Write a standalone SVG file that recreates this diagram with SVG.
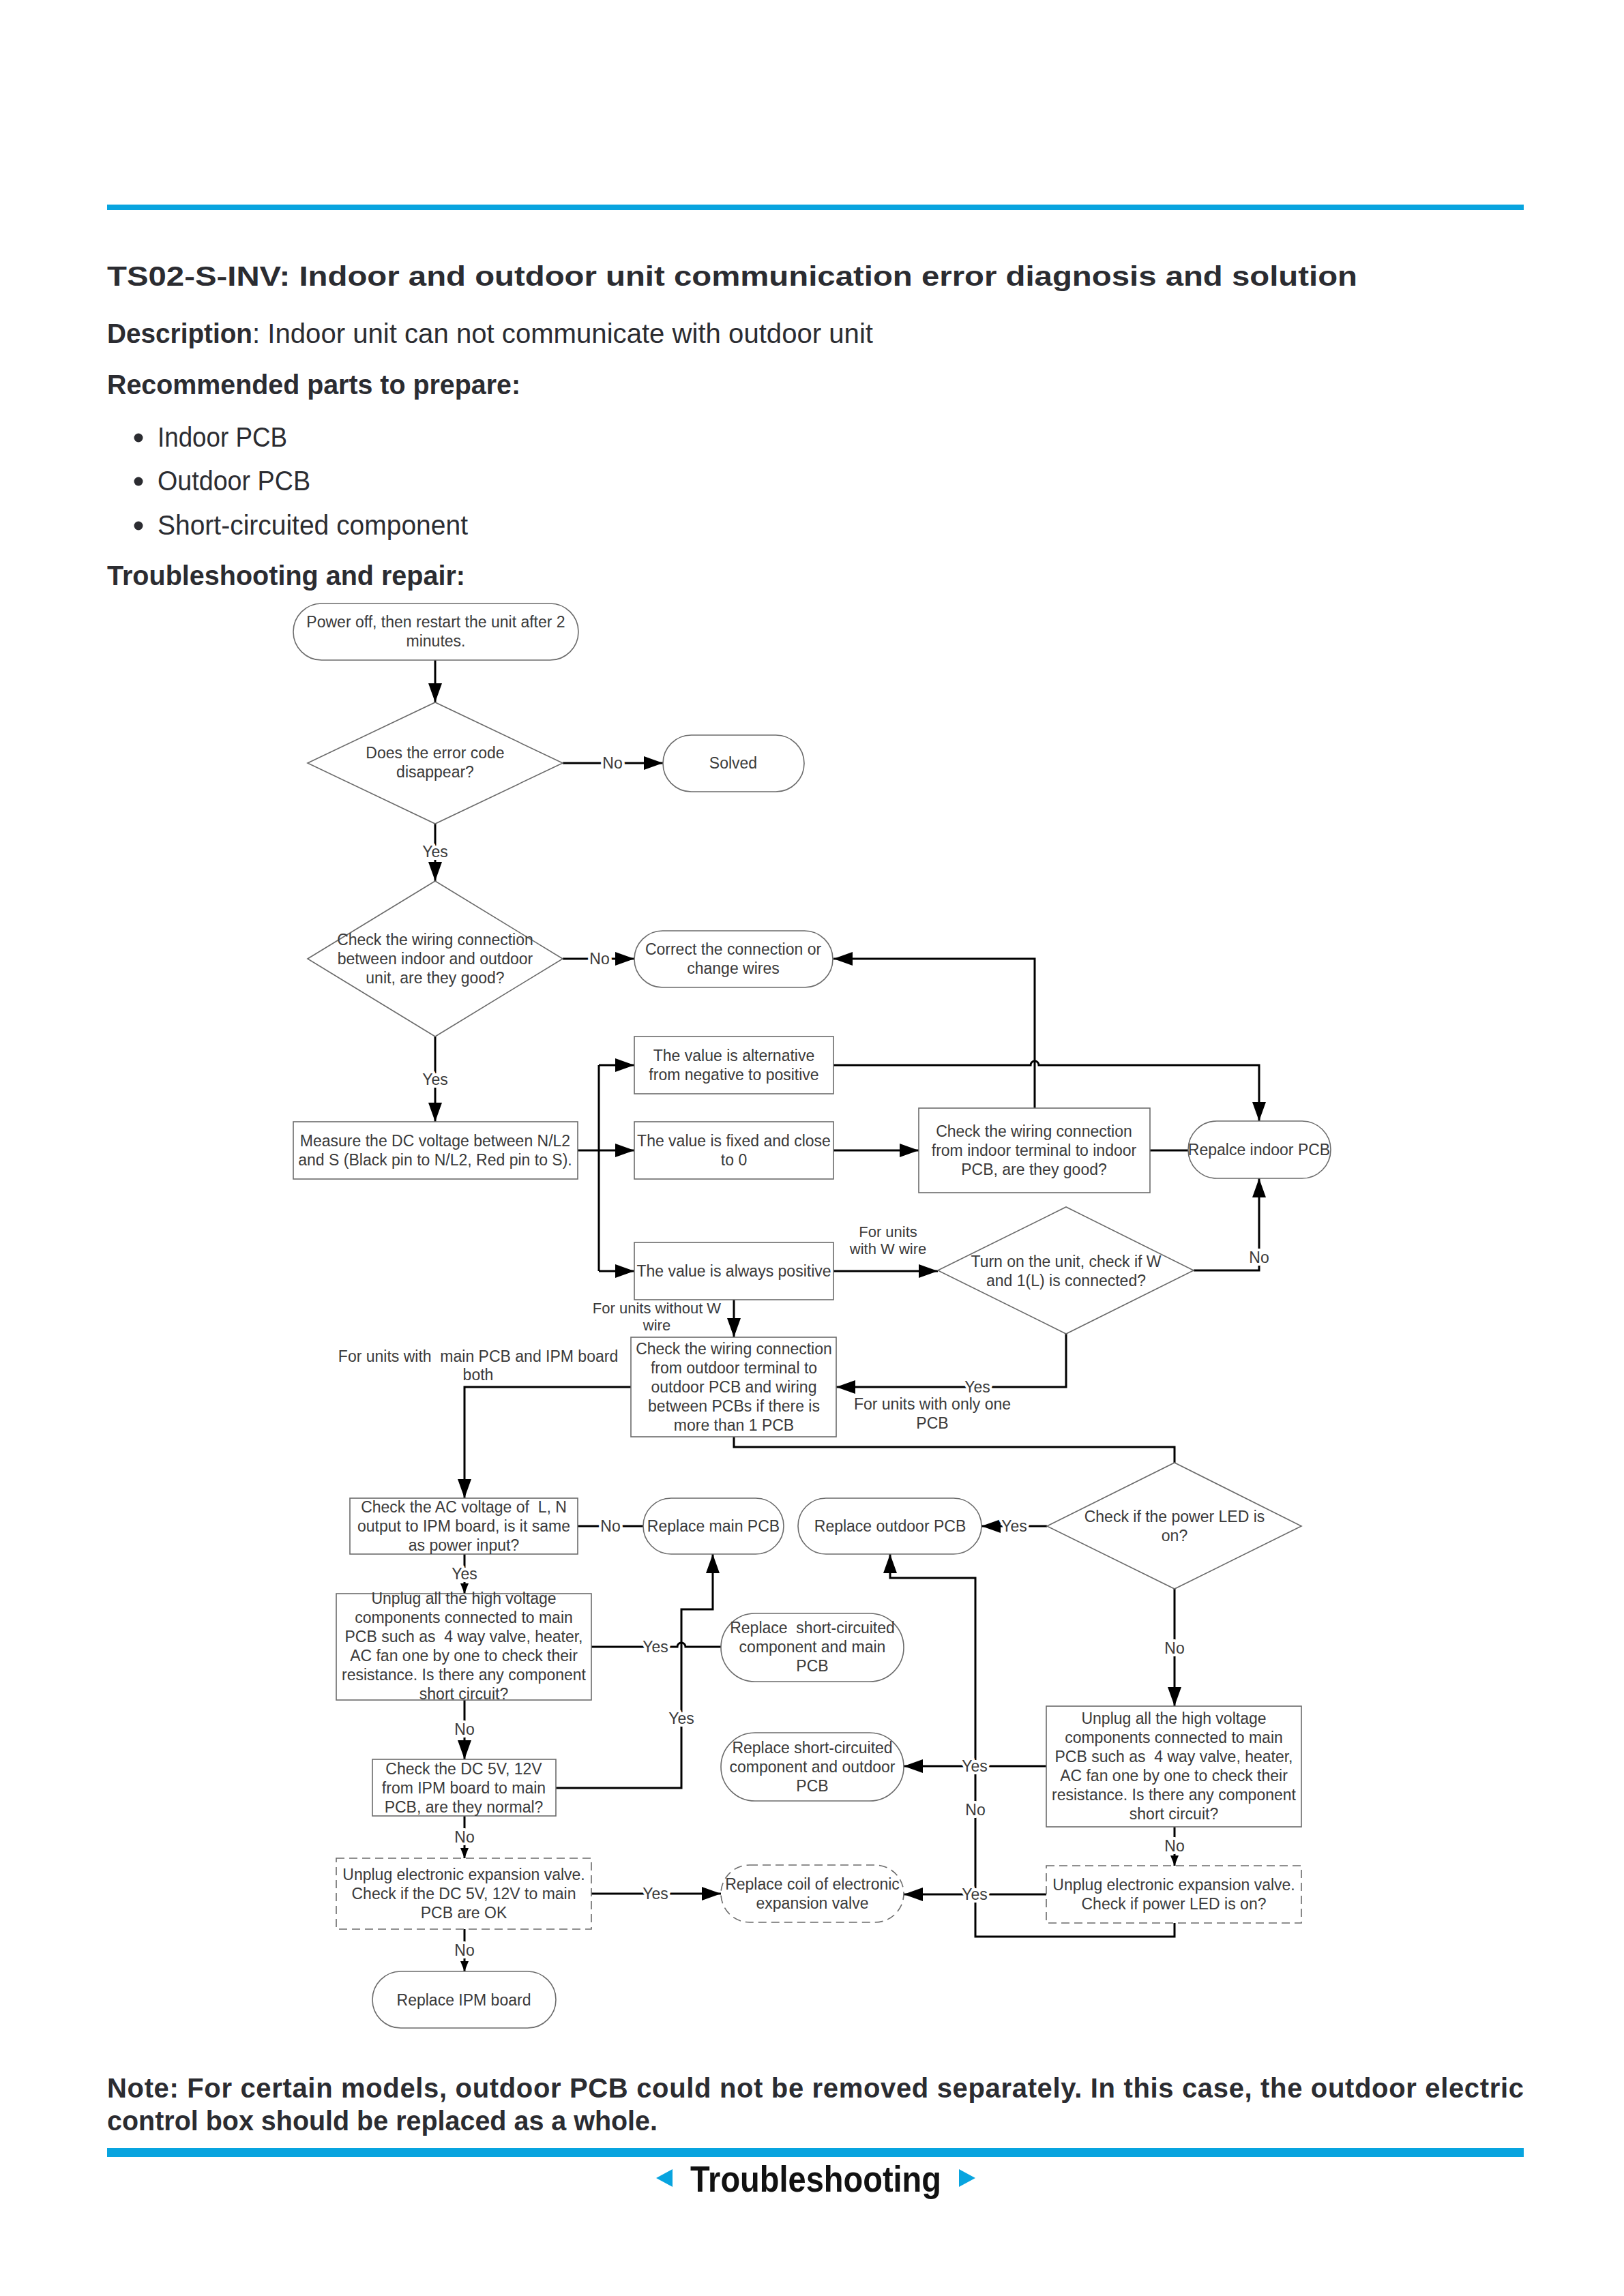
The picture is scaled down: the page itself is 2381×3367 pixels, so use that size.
<svg xmlns="http://www.w3.org/2000/svg" width="2381" height="3367" viewBox="0 0 2381 3367">
<defs>
<marker id="arr" markerUnits="userSpaceOnUse" markerWidth="30" markerHeight="20" refX="28" refY="10" orient="auto"><path d="M0,0 L28,10 L0,20 z" fill="#000"/></marker>
<marker id="arrS" markerUnits="userSpaceOnUse" markerWidth="16" markerHeight="12" refX="15" refY="6" orient="auto"><path d="M0,0 L15,6 L0,12 z" fill="#000"/></marker>
<style>
.shape{fill:#fff;stroke:#6b6b6b;stroke-width:1.6}
.dash{stroke-dasharray:12 7}
.t{font-family:"Liberation Sans",Arial,sans-serif;font-size:23px;fill:#3a3a3a;text-anchor:middle}
.lbl{font-family:"Liberation Sans",Arial,sans-serif;font-size:23px;fill:#3a3a3a;text-anchor:middle;paint-order:stroke;stroke:#fff;stroke-width:8px;stroke-linejoin:round}
.sm{font-size:22px}
.c{fill:none;stroke:#000;stroke-width:3}
.h{font-family:"Liberation Sans",Arial,sans-serif;fill:#2b2c31;font-size:40px}
.b{font-weight:bold}
.blue{fill:#08a4df}
</style>
</defs>
<rect x="0" y="0" width="2381" height="3367" fill="#fff"/>

<g id="page">
<rect class="blue" x="157" y="300" width="2077" height="8"/>
<text class="h b" x="157" y="419" font-size="52" textLength="1833" lengthAdjust="spacingAndGlyphs">TS02-S-INV: Indoor and outdoor unit communication error diagnosis and solution</text>
<text class="h b" x="157" y="503" textLength="213" lengthAdjust="spacingAndGlyphs">Description</text>
<text class="h" x="370" y="503" textLength="910" lengthAdjust="spacingAndGlyphs">: Indoor unit can not communicate with outdoor unit</text>
<text class="h b" x="157" y="578" textLength="606" lengthAdjust="spacingAndGlyphs">Recommended parts to prepare:</text>
<circle cx="203" cy="642" r="6.5" fill="#2b2c31"/>
<text class="h" x="231" y="655" textLength="190" lengthAdjust="spacingAndGlyphs">Indoor PCB</text>
<circle cx="203" cy="706" r="6.5" fill="#2b2c31"/>
<text class="h" x="231" y="719" textLength="224" lengthAdjust="spacingAndGlyphs">Outdoor PCB</text>
<circle cx="203" cy="771" r="6.5" fill="#2b2c31"/>
<text class="h" x="231" y="784" textLength="455" lengthAdjust="spacingAndGlyphs">Short-circuited component</text>
<text class="h b" x="157" y="858" textLength="525" lengthAdjust="spacingAndGlyphs">Troubleshooting and repair:</text>

<text class="h b" x="157" y="3076" font-size="41" textLength="2077" lengthAdjust="spacing">Note: For certain models, outdoor PCB could not be removed separately. In this case, the outdoor electric</text>
<text class="h b" x="157" y="3124" font-size="41" textLength="807" lengthAdjust="spacingAndGlyphs">control box should be replaced as a whole.</text>
<rect class="blue" x="157" y="3150" width="2077" height="13"/>
<polygon class="blue" points="962,3194 986,3181 986,3207"/>
<polygon class="blue" points="1430,3194 1406,3181 1406,3207"/>
<text x="1196" y="3214" font-family="Liberation Sans,Arial,sans-serif" font-weight="bold" font-size="54" fill="#111" text-anchor="middle" textLength="368" lengthAdjust="spacingAndGlyphs">Troubleshooting</text>
</g>

<g id="connectors">
<path class="c" d="M638,968 V1030" marker-end="url(#arr)"/>
<path class="c" d="M825,1119 H972" marker-end="url(#arr)"/>
<path class="c" d="M638,1208 V1292" marker-end="url(#arr)"/>
<path class="c" d="M825,1406 H930" marker-end="url(#arr)"/>
<path class="c" d="M638,1520 V1645" marker-end="url(#arr)"/>
<path class="c" d="M847,1687 H878"/>
<path class="c" d="M878,1562 V1864"/>
<path class="c" d="M878,1562 H930" marker-end="url(#arr)"/>
<path class="c" d="M878,1687 H930" marker-end="url(#arr)"/>
<path class="c" d="M878,1864 H930" marker-end="url(#arr)"/>
<path class="c" d="M1222,1562 H1511 A6,6 0 0 1 1523,1562 H1846 V1644" marker-end="url(#arr)"/>
<path class="c" d="M1222,1687 H1347" marker-end="url(#arr)"/>
<path class="c" d="M1517,1625 V1406 H1222" marker-end="url(#arr)"/>
<path class="c" d="M1686,1687 H1742"/>
<path class="c" d="M1222,1864 H1375" marker-end="url(#arr)"/>
<path class="c" d="M1750,1863 H1846 V1728" marker-end="url(#arr)"/>
<path class="c" d="M1563,1956 V2034 H1226" marker-end="url(#arr)"/>
<path class="c" d="M1076,1906 V1961" marker-end="url(#arr)"/>
<path class="c" d="M925,2034 H681 V2197" marker-end="url(#arr)"/>
<path class="c" d="M1076,2107 V2122 H1722 V2145"/>
<path class="c" d="M1535,2238 H1439" marker-end="url(#arr)"/>
<path class="c" d="M847,2238 H943"/>
<path class="c" d="M681,2279 V2337" marker-end="url(#arrS)"/>
<path class="c" d="M867,2415 H993 A6,6 0 0 1 1005,2415 H1057"/>
<path class="c" d="M681,2493 V2580" marker-end="url(#arr)"/>
<path class="c" d="M815,2622 H999 V2360 H1045 V2279" marker-end="url(#arr)"/>
<path class="c" d="M681,2663 V2725" marker-end="url(#arrS)"/>
<path class="c" d="M867,2777 H1057" marker-end="url(#arr)"/>
<path class="c" d="M681,2829 V2891" marker-end="url(#arrS)"/>
<path class="c" d="M1722,2330 V2502" marker-end="url(#arr)"/>
<path class="c" d="M1534,2590 H1325" marker-end="url(#arr)"/>
<path class="c" d="M1722,2679 V2736" marker-end="url(#arrS)"/>
<path class="c" d="M1534,2778 H1325" marker-end="url(#arr)"/>
<path class="c" d="M1722,2820 V2840 H1430 V2314 H1305 V2279" marker-end="url(#arr)"/>

<text class="lbl" x="898" y="1127">No</text>
<text class="lbl" x="638" y="1257">Yes</text>
<text class="lbl" x="879" y="1414">No</text>
<text class="lbl" x="638" y="1591">Yes</text>
<text class="lbl sm" x="1302" y="1814">For units</text>
<text class="lbl sm" x="1302" y="1839">with W wire</text>
<text class="lbl sm" x="963" y="1926">For units without W</text>
<text class="lbl sm" x="963" y="1951">wire</text>
<text class="lbl" x="1846" y="1852">No</text>
<text class="lbl" x="1433" y="2042">Yes</text>
<text class="lbl" x="1367" y="2067">For units with only one</text>
<text class="lbl" x="1367" y="2095">PCB</text>
<text class="lbl" x="701" y="1997">For units with&#160; main PCB and IPM board</text>
<text class="lbl" x="701" y="2024">both</text>
<text class="lbl" x="1487" y="2246">Yes</text>
<text class="lbl" x="895" y="2246">No</text>
<text class="lbl" x="681" y="2316">Yes</text>
<text class="lbl" x="961" y="2423">Yes</text>
<text class="lbl" x="681" y="2544">No</text>
<text class="lbl" x="999" y="2528">Yes</text>
<text class="lbl" x="681" y="2702">No</text>
<text class="lbl" x="961" y="2785">Yes</text>
<text class="lbl" x="681" y="2868">No</text>
<text class="lbl" x="1722" y="2425">No</text>
<text class="lbl" x="1430" y="2662">No</text>
<text class="lbl" x="1429" y="2598">Yes</text>
<text class="lbl" x="1722" y="2715">No</text>
<text class="lbl" x="1429" y="2786">Yes</text>
</g>

<g id="n-start"><rect class="shape" x="430" y="885" width="418" height="83" rx="41.5"/>
<text class="t"><tspan x="639" y="920">Power off, then restart the unit after 2</tspan><tspan x="639" y="948">minutes.</tspan></text></g>

<g id="n-d1"><polygon class="shape" points="451,1119 638,1030 825,1119 638,1208"/>
<text class="t"><tspan x="638" y="1112">Does the error code</tspan><tspan x="638" y="1140">disappear?</tspan></text></g>

<g id="n-solved"><rect class="shape" x="972" y="1078" width="207" height="83" rx="41.5"/>
<text class="t" x="1075" y="1127">Solved</text></g>

<g id="n-d2"><polygon class="shape" points="451,1406 638,1292 825,1406 638,1520"/>
<text class="t"><tspan x="638" y="1386">Check the wiring connection</tspan><tspan x="638" y="1414">between indoor and outdoor</tspan><tspan x="638" y="1442">unit, are they good?</tspan></text></g>

<g id="n-correct"><rect class="shape" x="930" y="1365" width="291" height="83" rx="41.5"/>
<text class="t"><tspan x="1075" y="1400">Correct the connection or</tspan><tspan x="1075" y="1428">change wires</tspan></text></g>

<g id="n-measure"><rect class="shape" x="430" y="1645" width="417" height="84"/>
<text class="t"><tspan x="638" y="1681">Measure the DC voltage between N/L2</tspan><tspan x="638" y="1709">and S (Black pin to N/L2, Red pin to S).</tspan></text></g>

<g id="n-alt"><rect class="shape" x="930" y="1520" width="292" height="84"/>
<text class="t"><tspan x="1076" y="1556">The value is alternative</tspan><tspan x="1076" y="1584">from negative to positive</tspan></text></g>

<g id="n-fixed"><rect class="shape" x="930" y="1645" width="292" height="84"/>
<text class="t"><tspan x="1076" y="1681">The value is fixed and close</tspan><tspan x="1076" y="1709">to 0</tspan></text></g>

<g id="n-pos"><rect class="shape" x="930" y="1822" width="292" height="84"/>
<text class="t" x="1076" y="1872">The value is always positive</text></g>

<g id="n-checkin"><rect class="shape" x="1347" y="1625" width="339" height="124"/>
<text class="t"><tspan x="1516" y="1667">Check the wiring connection</tspan><tspan x="1516" y="1695">from indoor terminal to indoor</tspan><tspan x="1516" y="1723">PCB, are they good?</tspan></text></g>

<g id="n-repin"><rect class="shape" x="1742" y="1644" width="209" height="84" rx="42"/>
<text class="t" x="1846" y="1694">Repalce indoor PCB</text></g>

<g id="n-d3"><polygon class="shape" points="1375,1863 1563,1770 1750,1863 1563,1956"/>
<text class="t"><tspan x="1563" y="1858">Turn on the unit, check if W</tspan><tspan x="1563" y="1886">and 1(L) is connected?</tspan></text></g>

<g id="n-checkout"><rect class="shape" x="925" y="1961" width="301" height="146"/>
<text class="t"><tspan x="1076" y="1986">Check the wiring connection</tspan><tspan x="1076" y="2014">from outdoor terminal to</tspan><tspan x="1076" y="2042">outdoor PCB and wiring</tspan><tspan x="1076" y="2070">between PCBs if there is</tspan><tspan x="1076" y="2098">more than 1 PCB</tspan></text></g>

<g id="n-ac"><rect class="shape" x="513" y="2197" width="334" height="82"/>
<text class="t"><tspan x="680" y="2218">Check the AC voltage of&#160; L, N</tspan><tspan x="680" y="2246">output to IPM board, is it same</tspan><tspan x="680" y="2274">as power input?</tspan></text></g>

<g id="n-repmain"><rect class="shape" x="943" y="2197" width="206" height="82" rx="41"/>
<text class="t" x="1046" y="2246">Replace main PCB</text></g>

<g id="n-repout"><rect class="shape" x="1170" y="2197" width="269" height="82" rx="41"/>
<text class="t" x="1305" y="2246">Replace outdoor PCB</text></g>

<g id="n-d4"><polygon class="shape" points="1535,2238 1722,2145 1908,2238 1722,2330"/>
<text class="t"><tspan x="1722" y="2232">Check if the power LED is</tspan><tspan x="1722" y="2260">on?</tspan></text></g>

<g id="n-unplugL"><rect class="shape" x="493" y="2337" width="374" height="156"/>
<text class="t"><tspan x="680" y="2352">Unplug all the high voltage</tspan><tspan x="680" y="2380">components connected to main</tspan><tspan x="680" y="2408">PCB such as&#160; 4 way valve, heater,</tspan><tspan x="680" y="2436">AC fan one by one to check their</tspan><tspan x="680" y="2464">resistance. Is there any component</tspan><tspan x="680" y="2492">short circuit?</tspan></text></g>

<g id="n-repshortmain"><rect class="shape" x="1057" y="2366" width="268" height="100" rx="50"/>
<text class="t"><tspan x="1191" y="2395">Replace&#160; short-circuited</tspan><tspan x="1191" y="2423">component and main</tspan><tspan x="1191" y="2451">PCB</tspan></text></g>

<g id="n-checkdc"><rect class="shape" x="546" y="2580" width="269" height="83"/>
<text class="t"><tspan x="680" y="2602">Check the DC 5V, 12V</tspan><tspan x="680" y="2630">from IPM board to main</tspan><tspan x="680" y="2658">PCB, are they normal?</tspan></text></g>

<g id="n-repshortout"><rect class="shape" x="1057" y="2541" width="268" height="100" rx="50"/>
<text class="t"><tspan x="1191" y="2571">Replace short-circuited</tspan><tspan x="1191" y="2599">component and outdoor</tspan><tspan x="1191" y="2627">PCB</tspan></text></g>

<g id="n-unplugR"><rect class="shape" x="1534" y="2502" width="374" height="177"/>
<text class="t"><tspan x="1721" y="2528">Unplug all the high voltage</tspan><tspan x="1721" y="2556">components connected to main</tspan><tspan x="1721" y="2584">PCB such as&#160; 4 way valve, heater,</tspan><tspan x="1721" y="2612">AC fan one by one to check their</tspan><tspan x="1721" y="2640">resistance. Is there any component</tspan><tspan x="1721" y="2668">short circuit?</tspan></text></g>

<g id="n-eevL"><rect class="shape dash" x="493" y="2725" width="374" height="104"/>
<text class="t"><tspan x="680" y="2757">Unplug electronic expansion valve.</tspan><tspan x="680" y="2785">Check if the DC 5V, 12V to main</tspan><tspan x="680" y="2813">PCB are OK</tspan></text></g>

<g id="n-coil"><rect class="shape dash" x="1057" y="2735" width="268" height="84" rx="42"/>
<text class="t"><tspan x="1191" y="2771">Replace coil of electronic</tspan><tspan x="1191" y="2799">expansion valve</tspan></text></g>

<g id="n-eevR"><rect class="shape dash" x="1534" y="2736" width="374" height="84"/>
<text class="t"><tspan x="1721" y="2772">Unplug electronic expansion valve.</tspan><tspan x="1721" y="2800">Check if power LED is on?</tspan></text></g>

<g id="n-repipm"><rect class="shape" x="546" y="2891" width="269" height="83" rx="41.5"/>
<text class="t" x="680" y="2941">Replace IPM board</text></g>
</svg>
